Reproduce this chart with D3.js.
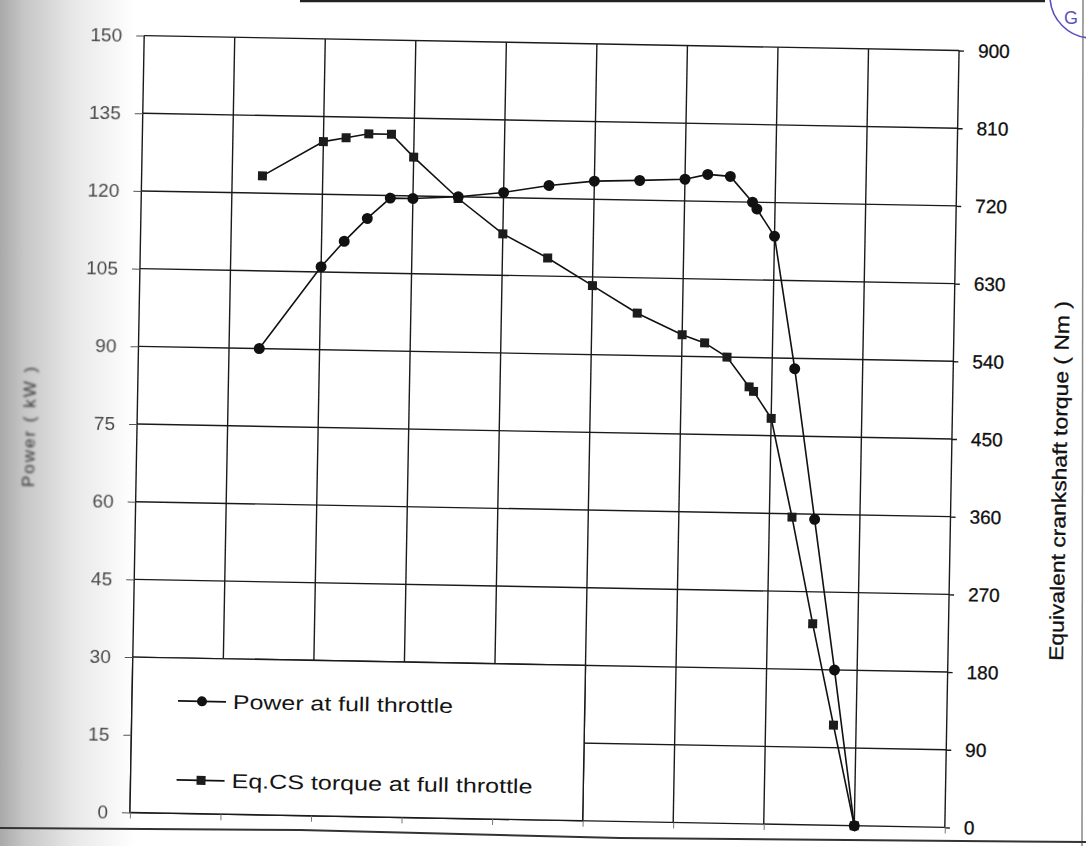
<!DOCTYPE html>
<html>
<head>
<meta charset="utf-8">
<script src="https://cdn.jsdelivr.net/npm/d3@7/dist/d3.min.js"></script>
<style>
  html, body { margin: 0; padding: 0; background: #fff; }
  svg { display: block; font-family: "Liberation Sans", Arial, sans-serif; }
</style>
</head>
<body>
<svg id="chart" width="1086" height="846"></svg>
<script>
const rpm = [667, 1000, 1125, 1250, 1375, 1500, 1750, 2000, 2250, 2500, 2750,
             3000, 3125, 3250, 3375, 3400, 3500, 3625, 3750, 3875, 4000];
const powerKW = [90, 106, 111, 115.5, 119.5, 119.5, 120, 121, 122.5, 123.5, 123.8,
                 124.2, 125.2, 124.9, 120, 118.7, 113.5, 88, 59, 30, 0];
const torqueNm = [740, 781, 786, 791, 791, 765, 718, 678, 651, 620, 589,
                  565, 556, 540, 506, 501, 470, 356, 233, 116, 0];

const powerTicks = d3.range(0, 151, 15);
const torqueTicks = d3.range(0, 901, 90);
const rpmGrid = d3.range(0, 4501, 500);

const legendItems = ['Power at full throttle', 'Eq.CS torque at full throttle'];

const svg = d3.select('#chart');
const margin = { left: 137, top: 43 };
const width = 815;
const height = 777;

const x = d3.scaleLinear().domain([0, 4500]).range([0, width]);
const yP = d3.scaleLinear().domain([0, 150]).range([height, 0]);
const yT = d3.scaleLinear().domain([0, 900]).range([height, 0]);

const defs = svg.append('defs');
const grad = defs.append('linearGradient').attr('id', 'edge');
grad.append('stop').attr('offset', '0%').attr('stop-color', '#a9a9a9');
grad.append('stop').attr('offset', '18%').attr('stop-color', '#c6c6c6');
grad.append('stop').attr('offset', '55%').attr('stop-color', '#e8e8e8');
grad.append('stop').attr('offset', '100%').attr('stop-color', '#ffffff');
defs.append('filter').attr('id', 'soft')
  .append('feGaussianBlur').attr('stdDeviation', 0.7);
defs.append('filter').attr('id', 'softer')
  .append('feGaussianBlur').attr('stdDeviation', 1.2);

// scan artefacts of the page
svg.append('rect').attr('x', 0).attr('y', 0).attr('width', 135).attr('height', 846)
  .attr('fill', 'url(#edge)');
svg.append('line').attr('x1', 300).attr('y1', 1).attr('x2', 1045).attr('y2', 1)
  .attr('stroke', '#222').attr('stroke-width', 2.5);
svg.append('line').attr('x1', 1083).attr('y1', 0).attr('x2', 1082).attr('y2', 846)
  .attr('stroke', '#888').attr('stroke-width', 1.5);
svg.append('path').attr('d', 'M0,828 L300,830 L620,838 L1086,842')
  .attr('fill', 'none').attr('stroke', '#333').attr('stroke-width', 2);
svg.append('circle').attr('cx', 1092).attr('cy', -4).attr('r', 42)
  .attr('fill', 'none').attr('stroke', '#5a4fc0').attr('stroke-width', 1.6);
svg.append('text').attr('x', 1064).attr('y', 24).attr('font-size', 18)
  .attr('fill', '#5a4fc0').text('G');

const g = svg.append('g')
  .attr('transform', `rotate(1.05, 544.5, 431.75) translate(${margin.left},${margin.top})`);

// grid
g.append('g').selectAll('line').data(powerTicks).join('line')
  .attr('x1', 0).attr('x2', width)
  .attr('y1', d => yP(d)).attr('y2', d => yP(d))
  .attr('stroke', '#1a1a1a').attr('stroke-width', 1.4);
g.append('g').selectAll('line').data(rpmGrid).join('line')
  .attr('x1', d => x(d)).attr('x2', d => x(d))
  .attr('y1', 0).attr('y2', height)
  .attr('stroke', '#1a1a1a').attr('stroke-width', 1.4);

// legend box sits in the lower left cells and hides the grid there
const leg = g.append('g');
leg.append('rect')
  .attr('x', x(0)).attr('y', yP(30))
  .attr('width', x(2500) - x(0)).attr('height', yP(0) - yP(30))
  .attr('fill', '#fff').attr('stroke', '#1a1a1a').attr('stroke-width', 1.4);

// axes
const left = g.append('g')
  .call(d3.axisLeft(yP).tickValues(powerTicks).tickSize(8).tickPadding(14));
left.select('.domain').remove();
left.selectAll('line').attr('stroke', '#555');
left.selectAll('text').attr('font-size', 19).attr('fill', '#4a4a4a')
  .attr('font-family', '"Liberation Sans", Arial, sans-serif')
  .attr('filter', 'url(#soft)');

const right = g.append('g').attr('transform', `translate(${width},0)`)
  .call(d3.axisRight(yT).tickValues(torqueTicks).tickSize(5).tickPadding(14));
right.select('.domain').remove();
right.selectAll('line').attr('stroke', '#1a1a1a').attr('stroke-width', 1.4);
right.selectAll('text').attr('font-size', 19).attr('fill', '#111')
  .attr('font-family', '"Liberation Sans", Arial, sans-serif')
  .attr('stroke', '#111').attr('stroke-width', 0.3);

const bottom = g.append('g').attr('transform', `translate(0,${height})`)
  .call(d3.axisBottom(x).tickValues(rpmGrid).tickSize(6).tickFormat(''));
bottom.select('.domain').remove();
bottom.selectAll('line').attr('stroke', '#777');

g.append('text')
  .attr('transform', `translate(-102,${height / 2 + 4}) rotate(-90)`)
  .attr('text-anchor', 'middle').attr('font-size', 17).attr('fill', '#333')
  .attr('letter-spacing', 2).attr('filter', 'url(#softer)')
  .text('Power ( kW )');
g.append('text')
  .attr('transform', `translate(${width + 115},${height / 2 + 40}) rotate(-90)`)
  .attr('text-anchor', 'middle').attr('font-size', 20).attr('fill', '#111')
  .attr('stroke', '#111').attr('stroke-width', 0.3)
  .attr('textLength', 360).attr('lengthAdjust', 'spacingAndGlyphs')
  .text('Equivalent crankshaft torque ( Nm )');

// series
const pts = rpm.map((r, i) => ({ r, p: powerKW[i], t: torqueNm[i] }));

g.append('path').datum(pts)
  .attr('fill', 'none').attr('stroke', '#111').attr('stroke-width', 1.6)
  .attr('d', d3.line().x(d => x(d.r)).y(d => yT(d.t)));
g.append('path').datum(pts)
  .attr('fill', 'none').attr('stroke', '#111').attr('stroke-width', 1.6)
  .attr('d', d3.line().x(d => x(d.r)).y(d => yP(d.p)));

const sq = 9;
g.append('g').selectAll('rect').data(pts).join('rect')
  .attr('x', d => x(d.r) - sq / 2).attr('y', d => yT(d.t) - sq / 2)
  .attr('width', sq).attr('height', sq).attr('fill', '#1c1c1c');
g.append('g').selectAll('circle').data(pts).join('circle')
  .attr('cx', d => x(d.r)).attr('cy', d => yP(d.p)).attr('r', 5.5)
  .attr('fill', '#111');

// legend entries
const rowY = [yP(30) + 43, yP(30) + 122];
const textW = [220, 301];
legendItems.forEach((label, i) => {
  const row = leg.append('g').attr('transform', `translate(46,${rowY[i]})`);
  row.append('line').attr('x1', 0).attr('x2', 48).attr('y1', 0).attr('y2', 0)
    .attr('stroke', '#111').attr('stroke-width', 1.7);
  if (i === 0) {
    row.append('circle').attr('cx', 24).attr('cy', 0).attr('r', 5).attr('fill', '#111');
  } else {
    row.append('rect').attr('x', 20).attr('y', -4.5).attr('width', 9).attr('height', 9)
      .attr('fill', '#1c1c1c');
  }
  row.append('text').attr('x', 55).attr('y', 7).attr('font-size', 20)
    .attr('fill', '#151515')
    .attr('textLength', textW[i]).attr('lengthAdjust', 'spacingAndGlyphs')
    .text(label);
});
</script>
</body>
</html>
